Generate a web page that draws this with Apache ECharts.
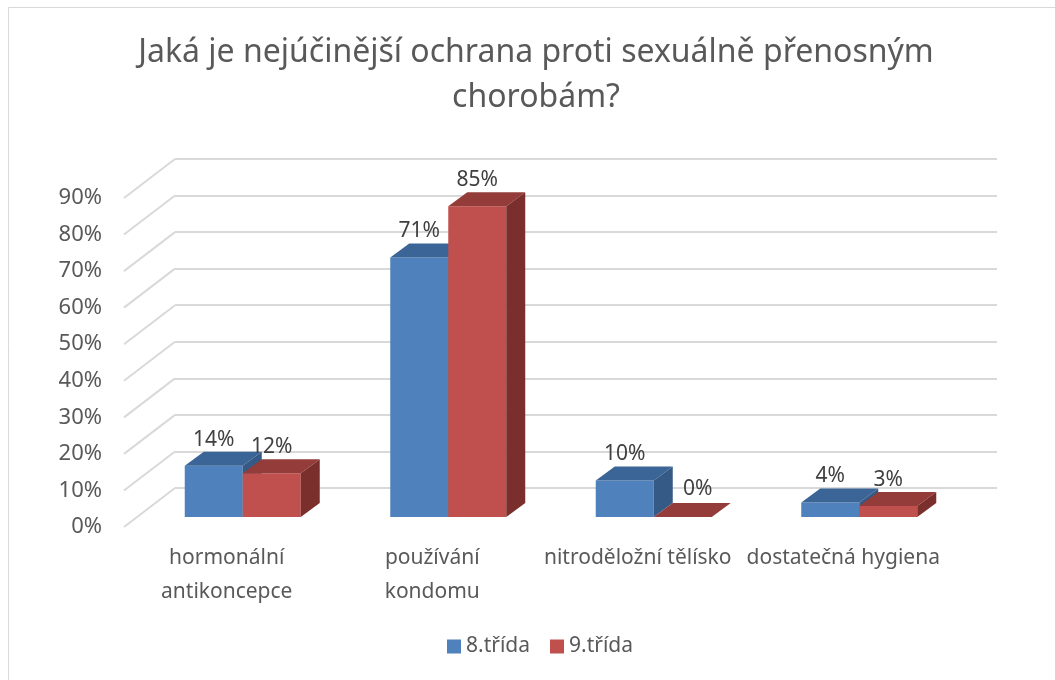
<!DOCTYPE html>
<html>
<head>
<meta charset="utf-8">
<script src="https://cdn.jsdelivr.net/npm/echarts@6/dist/echarts.min.js"></script>
<style>
  html, body { margin: 0; padding: 0; background: #fff; }
  #chart { width: 1055px; height: 680px; }
</style>
</head>
<body>
<div id="chart"></div>
<script>
// data
var categories = ['hormonální\nantikoncepce', 'používání\nkondomu', 'nitroděložní tělísko', 'dostatečná hygiena'];
var trida8 = [14, 71, 10, 4];
var trida9 = [12, 85, 0, 3];
var yTicks = [0, 10, 20, 30, 40, 50, 60, 70, 80, 90];

// 3D nastaveni
var WALL_DX = 51, WALL_DY = -39;   // hloubka zadni steny
var BAR_OX = 16, BAR_OY = -10;     // posun sloupcu od prední roviny
var BAR_DX = 19, BAR_DY = -14;     // hloubka sloupce
var BAR_W = 58;

var FONT = '"Noto Sans", sans-serif';

function barRender(side, colors) {
  return function (params, api) {
    var idx = api.value(0), v = api.value(1);
    var base = api.coord([idx, 0]);
    var top = api.coord([idx, v]);
    var x0 = base[0] + BAR_OX + (side ? 0 : -BAR_W);
    var x1 = x0 + BAR_W;
    var yb = base[1] + BAR_OY;
    var yt = top[1] + BAR_OY;
    // nulovy sloupec ma popisek posunuty doprava (jako v excelu)
    var lx = (x0 + x1) / 2 + (v === 0 ? 15 : 0);
    return {
      type: 'group',
      children: [
        { type: 'rect', shape: { x: x0, y: yt, width: BAR_W, height: yb - yt },
          style: { fill: colors[0] } },
        { type: 'polygon', shape: { points: [[x0, yt], [x0 + BAR_DX, yt + BAR_DY], [x1 + BAR_DX, yt + BAR_DY], [x1, yt]] },
          style: { fill: colors[1] } },
        { type: 'polygon', shape: { points: [[x1, yt], [x1 + BAR_DX, yt + BAR_DY], [x1 + BAR_DX, yb + BAR_DY], [x1, yb]] },
          style: { fill: colors[2] } },
        { type: 'text', x: lx, y: yt - (v === 0 ? 28 : 26),
          style: { text: v + '%', fill: '#404040', font: '21px ' + FONT, align: 'center', verticalAlign: 'middle' } }
      ]
    };
  };
}

var myChart = echarts.init(document.getElementById('chart'));
myChart.setOption({
  animation: false,
  title: {
    text: 'Jaká je nejúčinější ochrana proti sexuálně přenosným\nchorobám?',
    left: 531,
    textAlign: 'center',
    top: 25,
    textStyle: { fontFamily: FONT, fontSize: 32, fontWeight: 'normal', color: '#595959', lineHeight: 45 }
  },
  graphic: [{
    type: 'rect', z: -10,
    shape: { x: 8.5, y: 7.5, width: 1100, height: 700 },
    style: { fill: 'none', stroke: '#d9d9d9', lineWidth: 1 }
  }],
  legend: {
    top: 636,
    left: 447,
    icon: 'rect',
    itemWidth: 14,
    itemHeight: 14,
    itemGap: 20,
    padding: 0,
    textStyle: { fontFamily: FONT, fontSize: 21, color: '#595959' },
    data: ['8.třída', '9.třída']
  },
  grid: [
    { left: 124, right: 109, top: 198, bottom: 153 },  // predni rovina
    { left: 175, right: 58, top: 159, bottom: 192 }    // zadni stena
  ],
  xAxis: [
    { type: 'category', gridIndex: 0, data: categories,
      axisLine: { show: false }, axisTick: { show: false },
      axisLabel: { interval: 0, margin: 14, fontFamily: FONT, fontSize: 21, color: '#595959', lineHeight: 34 } },
    { type: 'category', gridIndex: 1, data: categories, show: false }
  ],
  yAxis: [
    { type: 'value', gridIndex: 0, min: 0, max: 90, interval: 10,
      axisLine: { show: false }, axisTick: { show: false }, splitLine: { show: false },
      axisLabel: { formatter: '{value}%', margin: 22, fontFamily: FONT, fontSize: 22, color: '#595959' } },
    { type: 'value', gridIndex: 1, min: 0, max: 90, interval: 10,
      axisLine: { show: false }, axisTick: { show: false }, axisLabel: { show: false },
      splitLine: { lineStyle: { color: '#d9d9d9', width: 2 } } }
  ],
  series: [
    {
      type: 'custom', name: 'wall', xAxisIndex: 0, yAxisIndex: 0, silent: true,
      data: yTicks.map(function (t) { return [0, t]; }),
      renderItem: function (params, api) {
        var y = api.coord([0, api.value(1)])[1];
        var x = params.coordSys.x;
        return { type: 'line', shape: { x1: x, y1: y, x2: x + WALL_DX, y2: y + WALL_DY },
          style: { stroke: '#d9d9d9', lineWidth: 2 } };
      }
    },
    {
      type: 'custom', name: '8.třída', xAxisIndex: 0, yAxisIndex: 0,
      itemStyle: { color: '#4F81BD' },
      data: trida8.map(function (v, i) { return [i, v]; }),
      renderItem: barRender(false, ['#4F81BD', '#3C6597', '#345A85'])
    },
    {
      type: 'custom', name: '9.třída', xAxisIndex: 0, yAxisIndex: 0,
      itemStyle: { color: '#C0504D' },
      data: trida9.map(function (v, i) { return [i, v]; }),
      renderItem: barRender(true, ['#C0504D', '#933C3A', '#7B2F2D'])
    }
  ]
});
</script>
</body>
</html>
